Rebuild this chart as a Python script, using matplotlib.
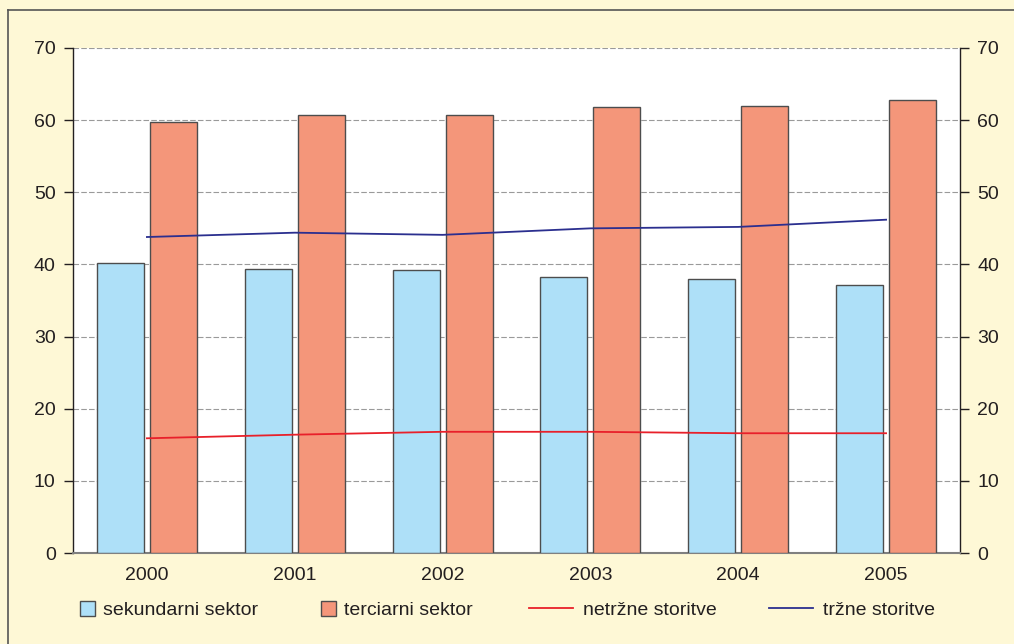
import matplotlib
matplotlib.use("Agg")
import matplotlib.pyplot as plt
from matplotlib.lines import Line2D
from matplotlib.patches import Patch
import numpy as np

plt.rcParams['font.family'] = ['Liberation Sans', 'DejaVu Sans']

years = ['2000', '2001', '2002', '2003', '2004', '2005']
sekundarni = [40.2, 39.4, 39.2, 38.3, 38.0, 37.2]
terciarni = [59.7, 60.7, 60.7, 61.8, 62.0, 62.8]
netrzne = [15.9, 16.4, 16.8, 16.8, 16.6, 16.6]
trzne = [43.8, 44.4, 44.1, 45.0, 45.2, 46.2]
yticks = [0, 10, 20, 30, 40, 50, 60, 70]
labels = ['sekundarni sektor', 'terciarni sektor', 'netržne storitve', 'tržne storitve']

bg = '#FEF8D6'
blue = '#AEE0F8'
salmon = '#F4967A'
red = '#E8202A'
navy = '#2B2F8F'
txt = '#231F20'
FS = 14

W, H = 1014, 644
fig = plt.figure(figsize=(W / 100, H / 100), dpi=100, facecolor=bg)
# outer frame (left and top)
fig.add_artist(Line2D([8 / W, 8 / W], [0, 1 - 10 / H], color='#555555', lw=1.2, transform=fig.transFigure))
fig.add_artist(Line2D([8 / W, 1], [1 - 10 / H, 1 - 10 / H], color='#555555', lw=1.2, transform=fig.transFigure))

left, right, top, bottom = 73, 960, 48, 553
ax = fig.add_axes([left / W, 1 - bottom / H, (right - left) / W, (bottom - top) / H])
ax.set_facecolor('white')

x = np.arange(len(years))
bw = 0.318
off = 0.179
ax.bar(x - off, sekundarni, bw, color=blue, edgecolor='#4d4d4d', linewidth=1.0, zorder=3)
ax.bar(x + off, terciarni, bw, color=salmon, edgecolor='#4d4d4d', linewidth=1.0, zorder=3)
ax.plot(x, netrzne, color=red, lw=1.3, zorder=4)
ax.plot(x, trzne, color=navy, lw=1.3, zorder=4)

ax.set_xlim(-0.5, len(years) - 0.5)
ax.set_ylim(0, 70)
ax.set_yticks(yticks)
ax.set_yticklabels([str(t) for t in yticks])
ax.set_xticks(x)
ax.set_xticklabels(years)
ax.yaxis.grid(True, color='#9a9a9a', linestyle=(0, (5, 2)), lw=0.8, zorder=0)
ax.set_axisbelow(True)
ax.tick_params(axis='x', length=0, pad=10, labelsize=FS, colors=txt)
ax.tick_params(axis='y', length=6.5, width=1.0, direction='out', labelsize=FS, colors=txt, pad=6,
               left=True, right=True, labelleft=True, labelright=True)
for s in ['left', 'right']:
    ax.spines[s].set_color('#231F20')
    ax.spines[s].set_linewidth(1.0)
ax.spines['top'].set_visible(False)
ax.spines['bottom'].set_color('#808080')
ax.spines['bottom'].set_linewidth(1.5)

handles = [Patch(facecolor=blue, edgecolor='#4d4d4d', label=labels[0]),
           Patch(facecolor=salmon, edgecolor='#4d4d4d', label=labels[1]),
           Line2D([0], [0], color=red, lw=1.3, label=labels[2]),
           Line2D([0], [0], color=navy, lw=1.3, label=labels[3])]
starts = [80, 321, 529, 769]
px_per_fs = FS * 100 / 72
for h, sx in zip(handles, starts):
    is_patch = isinstance(h, Patch)
    hl = (15 if is_patch else 44) / px_per_fs
    tp = (8 if is_patch else 10) / px_per_fs
    leg = fig.legend(handles=[h], loc='center left', bbox_to_anchor=(sx / W, 1 - 610 / H),
                     frameon=False, fontsize=FS, handlelength=hl, handleheight=0.8,
                     handletextpad=tp, borderpad=0, borderaxespad=0, labelcolor=txt)

fig.savefig('out.png', dpi=100, facecolor=bg)
